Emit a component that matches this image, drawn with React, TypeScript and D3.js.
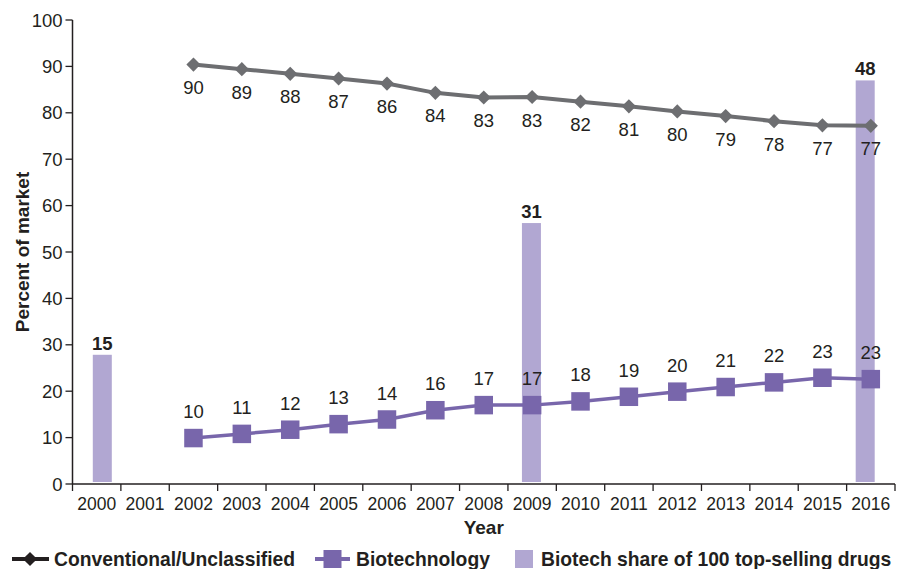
import React from "react";
import * as d3 from "d3";

const years = [2000, 2001, 2002, 2003, 2004, 2005, 2006, 2007, 2008, 2009, 2010, 2011, 2012, 2013, 2014, 2015, 2016];
const lineYears = [2002, 2003, 2004, 2005, 2006, 2007, 2008, 2009, 2010, 2011, 2012, 2013, 2014, 2015, 2016];
const conventional = [90.4, 89.4, 88.4, 87.4, 86.3, 84.3, 83.3, 83.4, 82.4, 81.4, 80.3, 79.3, 78.2, 77.3, 77.2];
const biotech = [9.9, 10.8, 11.7, 12.9, 13.9, 15.9, 17.0, 17.0, 17.8, 18.8, 19.9, 20.9, 21.9, 22.9, 22.6];
const barYears = [2000, 2009, 2016];
const barShare = [15.4, 31.1, 48.1];
const yTicks = [0, 10, 20, 30, 40, 50, 60, 70, 80, 90, 100];

const W = 903;
const H = 569;
const left = 72.5;
const right = 895;
const top = 20;
const bottom = 484;
const FONT = "'Liberation Sans', Arial, Helvetica, sans-serif";
const GRAY = "#6d6e71";
const PURPLE = "#7866ab";
const BAR = "#b1a7d2";
const TEXT = "#231f20";

export default function App() {
  const x = d3.scaleBand<number>().domain(years).range([left, right]).padding(0);
  const xBar = d3.scalePoint<number>().domain(years).range([left, right]).padding(0.625);
  const y = d3.scaleLinear().domain([0, 100]).range([bottom, top]);
  const y2 = d3.scaleLinear().domain([0, 55.3]).range([bottom, top]);
  const cx = (yr: number) => (x(yr) as number) + x.bandwidth() / 2;

  const convPts: [number, number][] = lineYears.map((yr, i) => [cx(yr), y(conventional[i])]);
  const bioPts: [number, number][] = lineYears.map((yr, i) => [cx(yr), y(biotech[i])]);
  const line = d3.line();
  const diamond = d3.symbol().type(d3.symbolDiamond2).size(128)();
  const bw = 19;
  const sq = 18.5;

  return (
    <svg width={W} height={H} style={{ position: "absolute", left: 0, top: 0, display: "block", background: "#fff" }} fontFamily={FONT}>
      {/* bars */}
      {barYears.map((yr, i) => {
        const bx = xBar(yr) as number;
        const t = y2(barShare[i]);
        return (
          <g key={"b" + yr}>
            <rect x={bx - bw / 2} y={t} width={bw} height={y2(0) - 2 - t} fill={BAR} />
            <text x={bx} y={t - 5} textAnchor="middle" fontSize={18.5} fontWeight="bold" fill={TEXT}>
              {Math.round(barShare[i])}
            </text>
          </g>
        );
      })}

      {/* axes */}
      <line x1={left} x2={left} y1={top} y2={bottom} stroke={TEXT} strokeWidth={1.5} />
      {yTicks.map((t) => (
        <g key={"yt" + t}>
          <line x1={left - 7} x2={left} y1={y(t)} y2={y(t)} stroke={TEXT} strokeWidth={1.3} />
          <text x={left - 10} y={y(t) + 6.5} textAnchor="end" fontSize={18.5} fill={TEXT}>{t}</text>
        </g>
      ))}
      <line x1={left} x2={right} y1={bottom} y2={bottom} stroke={TEXT} strokeWidth={1.5} />
      {years.map((yr) => (
        <line key={"xt" + yr} x1={x(yr) as number} x2={x(yr) as number} y1={bottom} y2={bottom + 7} stroke={TEXT} strokeWidth={1.3} />
      ))}
      <line x1={right} x2={right} y1={bottom} y2={bottom + 7} stroke={TEXT} strokeWidth={1.3} />
      {years.map((yr) => (
        <text key={"xl" + yr} x={cx(yr)} y={510} textAnchor="middle" fontSize={17.5} fill={TEXT}>{yr}</text>
      ))}
      <text x={(left + right) / 2} y={534} textAnchor="middle" fontSize={19} fontWeight="bold" fill={TEXT}>Year</text>
      <text transform={`translate(29,252) rotate(-90)`} textAnchor="middle" fontSize={19} fontWeight="bold" fill={TEXT}>Percent of market</text>

      {/* conventional line */}
      <path d={line(convPts) || ""} fill="none" stroke={GRAY} strokeWidth={4} />
      {convPts.map((p, i) => (
        <g key={"c" + i}>
          <path d={diamond || ""} transform={`translate(${p[0]},${p[1]})`} fill={GRAY} />
          <text x={p[0]} y={p[1] + 29.5} textAnchor="middle" fontSize={18.5} fill={TEXT}>{Math.round(conventional[i])}</text>
        </g>
      ))}

      {/* biotech line */}
      <path d={line(bioPts) || ""} fill="none" stroke={PURPLE} strokeWidth={3.5} />
      {bioPts.map((p, i) => (
        <g key={"p" + i}>
          <rect x={p[0] - sq / 2} y={p[1] - sq / 2} width={sq} height={sq} fill={PURPLE} />
          <text x={p[0]} y={p[1] - 20} textAnchor="middle" fontSize={18.5} fill={TEXT}>{Math.round(biotech[i])}</text>
        </g>
      ))}

      {/* legend */}
      <g>
        <line x1={12} x2={49} y1={559} y2={559} stroke={TEXT} strokeWidth={4} />
        <path d={diamond || ""} transform={`translate(30,559)`} fill={TEXT} />
        <text x={54} y={566} fontSize={19.3} fontWeight="bold" fill={TEXT}>Conventional/Unclassified</text>

        <line x1={315} x2={350} y1={559} y2={559} stroke={PURPLE} strokeWidth={4} />
        <rect x={332.5 - 9} y={550} width={18} height={18} fill={PURPLE} />
        <text x={356} y={566} fontSize={19.3} fontWeight="bold" fill={TEXT}>Biotechnology</text>

        <rect x={515} y={550} width={18} height={18} fill={BAR} />
        <text x={541} y={566} fontSize={19.3} fontWeight="bold" fill={TEXT}>Biotech share of 100 top-selling drugs</text>
      </g>
    </svg>
  );
}
